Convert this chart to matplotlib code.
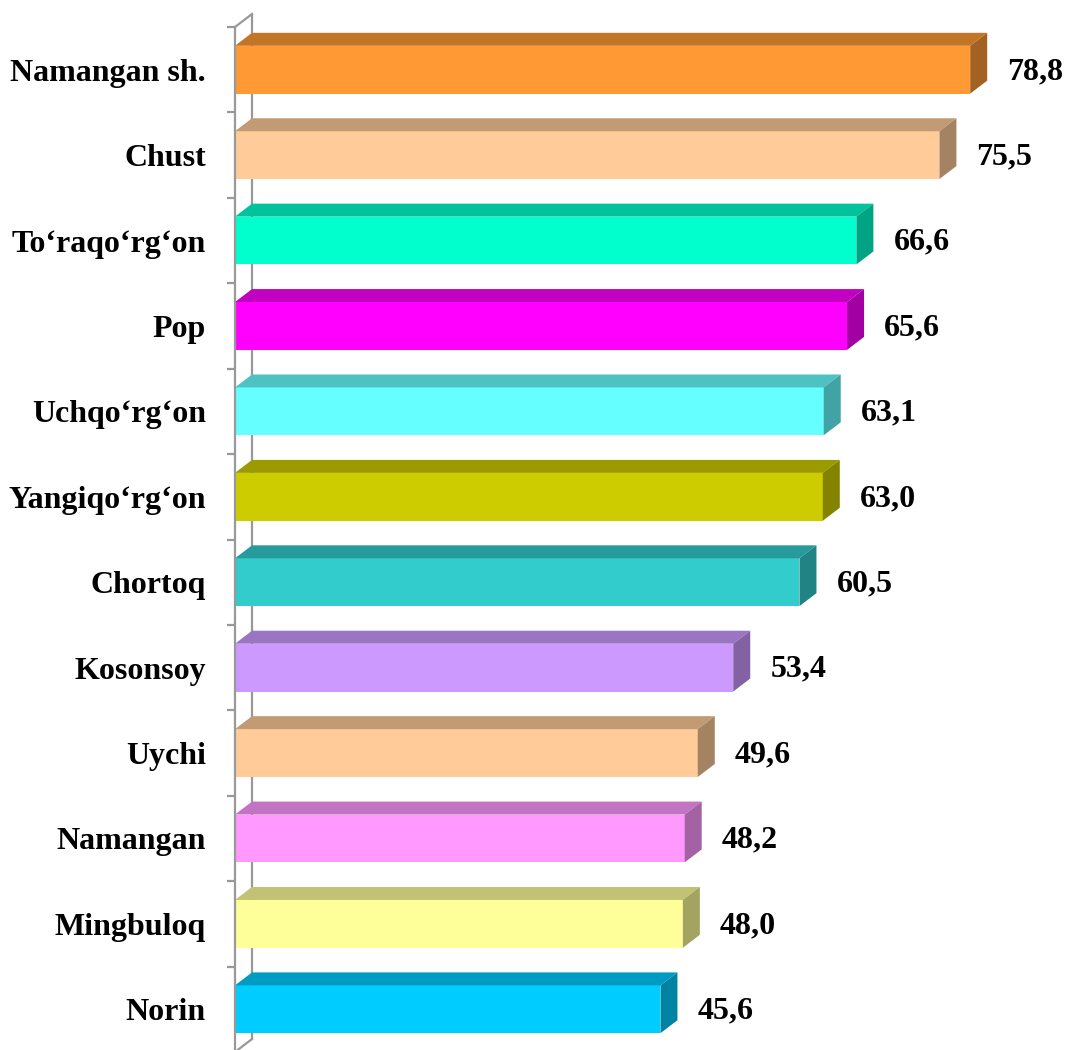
import numpy as np
import matplotlib.pyplot as plt
from matplotlib.patches import Polygon

# data, top to bottom
names = ["Namangan sh.", "Chust", "To\u2018raqo\u2018rg\u2018on", "Pop", "Uchqo\u2018rg\u2018on",
         "Yangiqo\u2018rg\u2018on", "Chortoq", "Kosonsoy", "Uychi", "Namangan",
         "Mingbuloq", "Norin"]
values = [78.8, 75.5, 66.6, 65.6, 63.1, 63.0, 60.5, 53.4, 49.6, 48.2, 48.0, 45.6]
colors = ["#FF9933", "#FFCC99", "#00FFCC", "#FF00FF", "#66FFFF", "#CCCC00",
          "#33CCCC", "#CC99FF", "#FFCC99", "#FF99FF", "#FFFF99", "#00CCFF"]

plt.rcParams['font.family'] = ['Liberation Serif', 'DejaVu Serif']

W, H = 1066, 1050
fig = plt.figure(figsize=(W / 100, H / 100), dpi=100)
# axes placed in pixel terms
left_px, top_px, bot_px = 235, 27, 1052
ax = fig.add_axes([left_px / W, (H - bot_px) / H, (W - left_px) / W, (bot_px - top_px) / H])

xmax = (W - left_px) / 9.33
n = len(values)
ax.set_xlim(0, xmax)
ax.set_ylim(n - 0.5, -0.5)

bh = 0.56           # bar thickness
dx = 17 / 9.33      # depth in x (data units)
dz = 13 / 85.6      # depth in y (data units)


def shade(c, f):
    r, g, b = [int(c[k:k + 2], 16) / 255 for k in (1, 3, 5)]
    return (r * f, g * f, b * f)


# back wall line of the axis
ax.plot([dx, dx], [-0.5 - dz, n - 0.5 - dz], color="#999999", lw=1.6,
        clip_on=False, zorder=1)
ax.plot([0, dx], [-0.5, -0.5 - dz], color="#999999", lw=1.6, clip_on=False, zorder=1)
ax.plot([0, dx], [n - 0.5, n - 0.5 - dz], color="#999999", lw=1.6, clip_on=False, zorder=1)

y = np.arange(n)
ax.barh(y, values, height=bh, color=colors, zorder=3, edgecolor="none")
for i, (v, c) in enumerate(zip(values, colors)):
    yt, yb = i - bh / 2, i + bh / 2
    top = Polygon([(0, yt), (v, yt), (v + dx, yt - dz), (dx, yt - dz)],
                  closed=True, fc=shade(c, 0.76), ec="none", zorder=3, clip_on=False)
    side = Polygon([(v, yt), (v, yb), (v + dx, yb - dz), (v + dx, yt - dz)],
                   closed=True, fc=shade(c, 0.64), ec="none", zorder=3, clip_on=False)
    ax.add_patch(top)
    ax.add_patch(side)
    ax.text(v + 37 / 9.33, i + 0.02, f"{v:.1f}".replace(".", ","), ha="left", va="center",
            fontsize=23, fontweight="bold", zorder=4)

for s in ["top", "right", "bottom"]:
    ax.spines[s].set_visible(False)
ax.spines["left"].set_color("#999999")
ax.spines["left"].set_linewidth(1.6)
ax.spines["left"].set_zorder(4)

ax.set_xticks([])
ax.set_yticks(y)
ax.set_yticklabels(names, fontsize=23, fontweight="bold")
ax.tick_params(axis="y", which="major", length=0, pad=21)
ax.set_yticks(np.arange(n + 1) - 0.5, minor=True)
ax.tick_params(axis="y", which="minor", length=6, width=1.6, color="#999999")
ax.patch.set_alpha(0)

fig.savefig("out.png", dpi=100)
